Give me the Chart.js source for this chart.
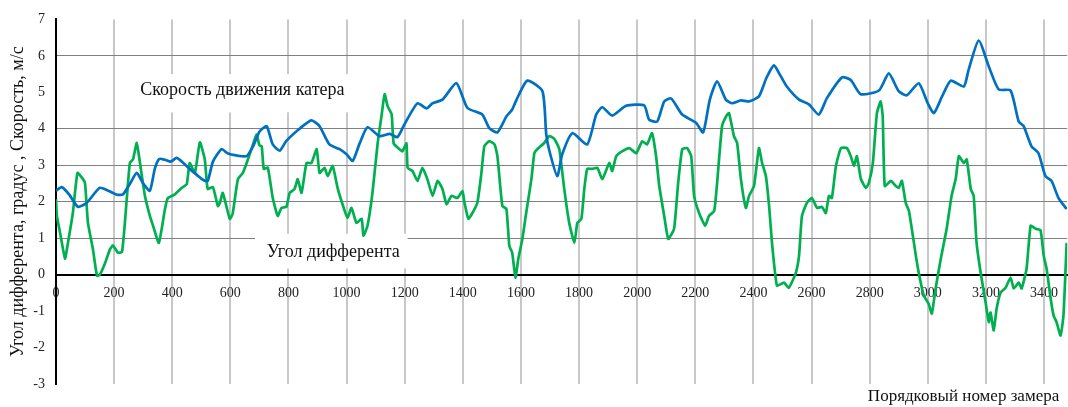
<!DOCTYPE html>
<html>
<head>
<meta charset="utf-8">
<script src="https://cdn.jsdelivr.net/npm/chart.js@4.4.0/dist/chart.umd.min.js"></script>
<style>
html, body { margin: 0; padding: 0; background: #fff; }
#wrap { width: 1068px; height: 407px; position: relative; }
</style>
</head>
<body>
<div id="wrap"><canvas id="chart"></canvas></div>
<script>
// Скорость движения катера, м/с
const speedX = [0,20,45,75,106,150,180,210,230,255,278,300,323,340,355,375,395,415,440,460,490,505,522,540,570,590,620,656,678,701,725,746,770,792,838,879,907,941,976,1000,1021,1045,1072,1113,1148,1175,1199,1244,1275,1296,1330,1378,1416,1467,1491,1519,1550,1570,1585,1622,1674,1687,1698,1725,1742,1777,1828,1859,1880,1914,1962,2024,2041,2069,2093,2117,2155,2203,2227,2250,2275,2305,2327,2357,2385,2419,2445,2471,2490,2515,2557,2591,2625,2653,2705,2735,2769,2832,2866,2900,2928,2969,3000,3021,3050,3079,3124,3140,3175,3210,3244,3285,3313,3330,3357,3381,3405,3426,3450,3478];
const speedY = [2.3,2.4,2.2,1.86,1.97,2.38,2.3,2.19,2.2,2.5,2.79,2.5,2.3,2.9,3.17,3.15,3.1,3.2,3.05,2.9,2.7,2.6,2.57,3.1,3.44,3.33,3.27,3.25,3.52,3.93,4.07,3.57,3.4,3.66,4.0,4.23,4.07,3.57,3.44,3.3,3.12,3.6,4.04,3.8,3.86,3.77,4.12,4.7,4.56,4.7,4.8,5.25,4.57,4.39,4.02,3.9,4.34,4.53,4.8,5.32,5.03,3.85,3.39,2.7,3.3,3.88,3.57,4.39,4.59,4.36,4.63,4.64,4.25,4.2,4.75,4.83,4.39,4.16,3.9,4.8,5.3,4.8,4.7,4.78,4.75,4.89,5.4,5.74,5.5,5.16,4.8,4.67,4.39,4.84,5.41,5.34,4.95,5.05,5.52,5.03,4.92,5.25,4.7,4.43,4.9,5.32,5.16,5.6,6.42,5.71,5.08,5.05,4.2,4.07,3.52,3.33,2.7,2.57,2.1,1.8];

// Угол дифферента, градус
const trimX = [0,3,14,31,41,58,74,93,100,110,127,141,151,168,186,196,213,227,237,254,265,278,289,306,323,334,354,375,385,409,433,450,460,478,495,512,522,540,557,564,574,598,608,626,643,656,674,690,700,708,715,729,746,763,776,793,804,821,832,845,862,879,897,907,924,935,952,969,986,1003,1017,1034,1052,1058,1072,1089,1107,1120,1131,1141,1155,1162,1182,1192,1206,1210,1227,1244,1261,1278,1296,1313,1330,1344,1361,1381,1399,1405,1419,1433,1450,1464,1474,1491,1509,1519,1536,1550,1560,1570,1581,1591,1605,1618,1636,1646,1656,1680,1698,1715,1732,1749,1766,1784,1794,1808,1818,1828,1845,1863,1880,1904,1914,1928,1948,1973,1997,2017,2034,2051,2065,2076,2093,2107,2127,2141,2155,2172,2186,2196,2213,2234,2247,2265,2275,2292,2306,2316,2333,2344,2357,2374,2385,2402,2419,2430,2443,2454,2464,2481,2505,2522,2546,2557,2567,2584,2601,2619,2636,2649,2660,2670,2684,2701,2722,2735,2746,2756,2770,2787,2797,2811,2825,2838,2845,2852,2873,2890,2900,2911,2924,2935,2945,2959,2969,2986,3003,3014,3027,3045,3065,3082,3096,3107,3124,3134,3148,3158,3168,3182,3199,3210,3216,3227,3237,3251,3268,3285,3296,3313,3323,3340,3354,3371,3388,3399,3409,3423,3433,3443,3457,3467,3478];
const trimY = [2.07,1.61,1.15,0.44,0.87,1.69,2.79,2.62,2.5,1.42,0.7,-0.03,0.0,0.3,0.7,0.8,0.6,0.62,1.42,3.06,3.16,3.61,3.06,2.16,1.61,1.34,0.87,1.8,2.1,2.2,2.38,2.48,3.06,2.79,3.63,3.16,2.35,2.4,1.88,1.97,2.24,1.53,1.67,2.62,2.79,3.06,3.47,3.84,3.55,3.52,2.9,2.93,2.1,1.61,1.83,1.86,2.24,2.35,2.62,2.24,3.06,3.06,3.44,2.79,2.93,2.7,2.98,2.38,1.93,1.56,1.83,1.42,1.53,1.07,1.34,2.24,3.61,4.34,4.95,4.62,4.4,3.6,3.44,3.38,3.6,2.93,2.84,2.57,2.93,2.62,2.16,2.57,2.35,1.93,2.16,2.1,2.29,2.0,1.53,1.69,1.97,2.79,3.52,3.66,3.57,3.25,1.88,1.8,0.79,0.6,-0.08,0.44,0.98,1.69,2.62,3.33,3.44,3.61,3.8,3.72,3.44,2.35,1.42,0.87,1.42,1.53,2.35,2.9,2.9,2.93,2.62,3.06,2.84,3.25,3.38,3.47,3.33,3.66,3.57,3.88,3.25,2.43,1.61,0.98,1.26,2.51,3.44,3.47,3.25,2.16,1.69,1.34,1.61,1.75,2.51,4.07,4.34,4.43,3.8,3.61,2.62,1.83,2.16,2.43,3.47,3.06,2.7,1.88,0.87,-0.3,-0.22,-0.36,0.05,0.52,1.61,1.97,2.1,1.83,1.86,1.69,2.16,2.1,2.98,3.47,3.47,3.25,2.98,3.25,2.62,2.38,2.51,3.06,4.43,4.75,4.34,2.43,2.57,2.43,2.38,2.57,1.97,1.75,1.26,0.52,0.05,-0.57,-0.8,-1.07,-0.38,0.44,1.26,2.16,2.62,3.25,3.06,3.16,2.35,2.16,0.87,0.05,-0.76,-1.3,-1.04,-1.53,-0.93,-0.49,-0.36,-0.08,-0.38,-0.22,-0.38,0.16,1.34,1.26,1.22,0.52,0.16,-0.66,-1.12,-1.3,-1.67,-1.12,0.87];

const yGridValues = [1, 2, 3, 4, 6];
const serif = '"Liberation Serif", "Times New Roman", serif';

const textPlugin = {
  id: 'textLabels',
  beforeDatasetsDraw(chart) {
    const ctx = chart.ctx;
    const xs = chart.scales.x, ys = chart.scales.y;
    ctx.save();
    // white boxes behind the in-plot captions
    ctx.fillStyle = '#fff';
    let x1 = xs.getPixelForValue(255), x2 = xs.getPixelForValue(1020);
    let y1 = ys.getPixelForValue(5.5), y2 = ys.getPixelForValue(4.45);
    ctx.fillRect(x1, y1, x2 - x1, y2 - y1);
    x1 = xs.getPixelForValue(685); x2 = xs.getPixelForValue(1210);
    y1 = ys.getPixelForValue(1.12); y2 = ys.getPixelForValue(0.17);
    ctx.fillRect(x1, y1, x2 - x1, y2 - y1);

    ctx.fillStyle = '#111';
    ctx.font = '18px ' + serif;
    ctx.textBaseline = 'middle';
    ctx.textAlign = 'left';
    ctx.fillText('Скорость движения катера', xs.getPixelForValue(290), ys.getPixelForValue(5.05));
    ctx.fillText('Угол дифферента', xs.getPixelForValue(725), ys.getPixelForValue(0.6));
    ctx.restore();
  },
  afterDraw(chart) {
    const ctx = chart.ctx;
    ctx.save();
    ctx.fillStyle = '#111';
    ctx.font = '17px ' + serif;
    ctx.textAlign = 'right';
    ctx.textBaseline = 'middle';
    ctx.fillText('Порядковый номер замера', chart.chartArea.right - 8, chart.chartArea.bottom + 13);
    ctx.restore();
  }
};

new Chart(document.getElementById('chart'), {
  type: 'line',
  data: {
    datasets: [
      {
        label: 'Скорость движения катера',
        data: speedX.map((x, i) => ({ x: x, y: speedY[i] })),
        borderColor: '#0070C0',
        borderWidth: 2.7,
        pointRadius: 0,
        tension: 0.2
      },
      {
        label: 'Угол дифферента',
        data: trimX.map((x, i) => ({ x: x, y: trimY[i] })),
        borderColor: '#00B050',
        borderWidth: 2.7,
        pointRadius: 0,
        tension: 0.15
      }
    ]
  },
  options: {
    responsive: true,
    maintainAspectRatio: false,
    animation: false,
    layout: { padding: { top: 18, bottom: 23, left: 0, right: 0 } },
    plugins: {
      legend: { display: false },
      tooltip: { enabled: false }
    },
    scales: {
      x: {
        type: 'linear',
        position: { y: 0 },
        min: 0,
        max: 3480,
        ticks: {
          stepSize: 200,
          includeBounds: false,
          padding: 10,
          color: '#222',
          font: { family: serif, size: 14 },
          maxRotation: 0,
          callback: v => String(v)
        },
        grid: {
          color: c => c.tick && c.tick.value === 0 ? 'rgba(0,0,0,0)' : '#c8c8c8',
          lineWidth: 2,
          drawTicks: false
        },
        border: { color: '#000', width: 2 }
      },
      y: {
        min: -3,
        max: 7,
        afterFit: s => { s.width = 56; },
        ticks: {
          stepSize: 1,
          includeBounds: false,
          padding: 11,
          color: '#222',
          font: { family: serif, size: 14 },
          callback: v => String(v)
        },
        grid: {
          color: c => {
            if (!c.tick) return 'rgba(0,0,0,0)';
            if (c.tick.value === 0) return '#000';
            return yGridValues.includes(c.tick.value) ? '#808080' : 'rgba(0,0,0,0)';
          },
          lineWidth: c => c.tick && c.tick.value === 0 ? 2 : 1,
          drawTicks: false
        },
        border: { color: '#000', width: 2 },
        title: {
          display: true,
          text: 'Угол дифферента, градус , Скорость, м/с',
          color: '#111',
          font: { family: serif, size: 18 },
          padding: { top: 7, bottom: 0 }
        }
      }
    }
  },
  plugins: [textPlugin]
});
</script>
</body>
</html>
